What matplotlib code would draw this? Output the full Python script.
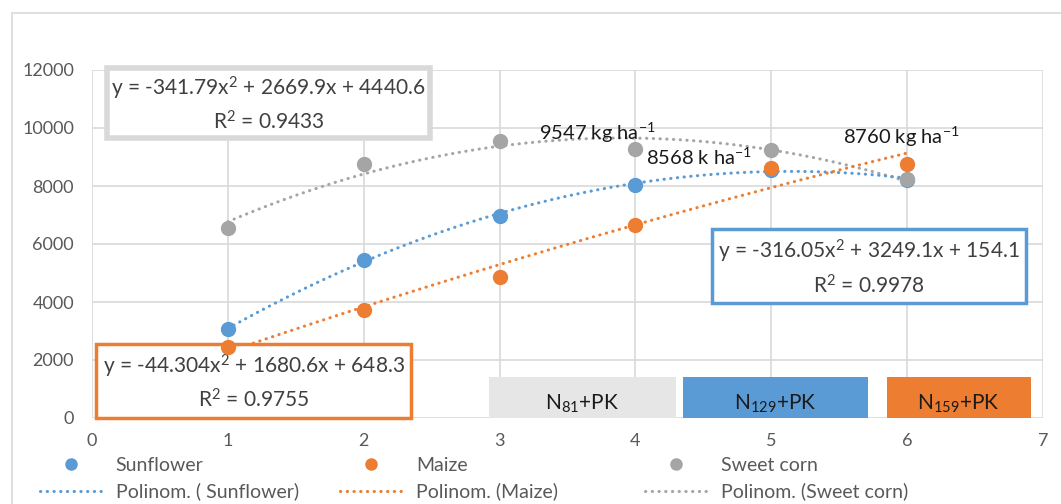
import numpy as np
import matplotlib
matplotlib.use('Agg')
import matplotlib.pyplot as plt
from matplotlib.patches import Rectangle
from matplotlib.lines import Line2D

plt.rcParams['font.family'] = ['Lato', 'DejaVu Sans']
plt.rcParams['mathtext.fontset'] = 'custom'
plt.rcParams['mathtext.rm'] = 'Lato'
plt.rcParams['mathtext.it'] = 'Lato'

doses = [1, 2, 3, 4, 5, 6]
sunflower = [3070, 5450, 6980, 8040, 8568, 8220]
maize = [2450, 3720, 4860, 6650, 8620, 8760]
sweet_corn = [6550, 8750, 9547, 9280, 9240, 8240]

# trendline coefficients as printed on the chart (a, b, c)
fit_sun = [-316.05, 3249.1, 154.1]
fit_maize = [-44.304, 1680.6, 648.3]
fit_sweet = [-341.79, 2669.9, 4440.6]
r2_sun, r2_maize, r2_sweet = 0.9978, 0.9755, 0.9433

blue = '#5B9BD5'
orange = '#ED7D31'
grey = '#A5A5A5'
txt = '#404040'

fig = plt.figure(figsize=(10.61, 5.04), dpi=100)
ax = fig.add_axes([92/1061, 1 - 418/504, (1043 - 92)/1061, (418 - 70)/504])

# chart border
fig.patches.append(Rectangle((12/1061, -0.1), 1.2, 0.1 + 1 - 13/504, transform=fig.transFigure,
                             fill=False, edgecolor='#D9D9D9', lw=1.2))

ax.set_xlim(0, 7)
ax.set_ylim(0, 12000)
ax.xaxis.set_major_locator(plt.MultipleLocator(1))
ax.yaxis.set_major_locator(plt.MultipleLocator(2000))
ax.grid(True, color='#D9D9D9', lw=1.2)
ax.set_axisbelow(True)
for s in ax.spines.values():
    s.set_visible(False)
ax.tick_params(length=0, labelsize=13, labelcolor='#595959')
ax.tick_params(axis='y', pad=13)
ax.tick_params(axis='x', pad=11)

xx = np.linspace(1, 6, 200)
dot = (0, (0.1, 2.1))
ax.plot(xx, np.polyval(fit_sweet, xx), color=grey, lw=2.2, ls=dot, dash_capstyle='round', zorder=2)
ax.plot(xx, np.polyval(fit_sun, xx), color=blue, lw=2.2, ls=dot, dash_capstyle='round', zorder=2)
ax.plot(xx, np.polyval(fit_maize, xx), color=orange, lw=2.2, ls=dot, dash_capstyle='round', zorder=2)
ax.plot(doses, sunflower, 'o', color=blue, ms=10, zorder=5)
ax.plot(doses, sweet_corn, 'o', color=grey, ms=10, zorder=5)
ax.plot(doses, maize, 'o', color=orange, ms=10, zorder=5)


def eq(c, r2):
    return 'y = %gx$^2$ + %gx + %g\nR$^2$ = %.4f' % (c[0], c[1], c[2], r2)


ax.text(1.3, 10830, eq(fit_sweet, r2_sweet), ha='center', va='center', fontsize=15, color=txt,
        linespacing=1.45, zorder=4,
        bbox=dict(boxstyle='square,pad=0.2', fc='white', ec='#D9D9D9', lw=4))
ax.text(5.72, 5190, eq(fit_sun, r2_sun), ha='center', va='center', fontsize=15, color=txt,
        linespacing=1.45, zorder=4,
        bbox=dict(boxstyle='square,pad=0.3', fc='white', ec=blue, lw=2.5))
ax.text(1.19, 1240, eq(fit_maize, r2_maize), ha='center', va='center', fontsize=15, color=txt,
        linespacing=1.45, zorder=4,
        bbox=dict(boxstyle='square,pad=0.3', fc='white', ec=orange, lw=2.5))

ax.text(3.72, 9830, '9547 kg ha$^{-1}$', ha='center', va='center', fontsize=14.5, color='#1a1a1a')
ax.text(4.08, 9000, '8568 k ha$^{-1}$', ha='left', va='center', fontsize=14.5, color='#1a1a1a')
ax.text(5.53, 9680, '8760 kg ha$^{-1}$', ha='left', va='center', fontsize=14.5, color='#1a1a1a')

boxes = [(2.92, 4.30, '#E7E6E6', 'N$_{81}$+PK'),
         (4.35, 5.71, blue, 'N$_{129}$+PK'),
         (5.85, 6.91, orange, 'N$_{159}$+PK')]
for x0, x1, c, lab in boxes:
    ax.add_patch(Rectangle((x0, 0), x1 - x0, 1410, fc=c, ec='none', zorder=3))
    ax.text((x0 + x1) / 2, 480, lab, ha='center', va='center', fontsize=15, color='#1a1a1a', zorder=4)

legs = [('Sunflower', 'Polinom. ( Sunflower)', blue, 40),
        ('Maize', 'Polinom. (Maize)', orange, 340),
        ('Sweet corn', 'Polinom. (Sweet corn)', grey, 645)]
for name, poly, c, px in legs:
    h = [Line2D([], [], ls='none', marker='o', color=c, ms=8),
         Line2D([], [], color=c, lw=2.2, ls=dot, dash_capstyle='round')]
    fig.legend(h, [name, poly], loc='upper left', bbox_to_anchor=(px/1061, 1 - 457/504),
               frameon=False, fontsize=14, labelcolor='#595959', handlelength=3.2,
               handletextpad=0.7, labelspacing=0.45, borderaxespad=0, borderpad=0)

fig.savefig('out.png', dpi=100)
